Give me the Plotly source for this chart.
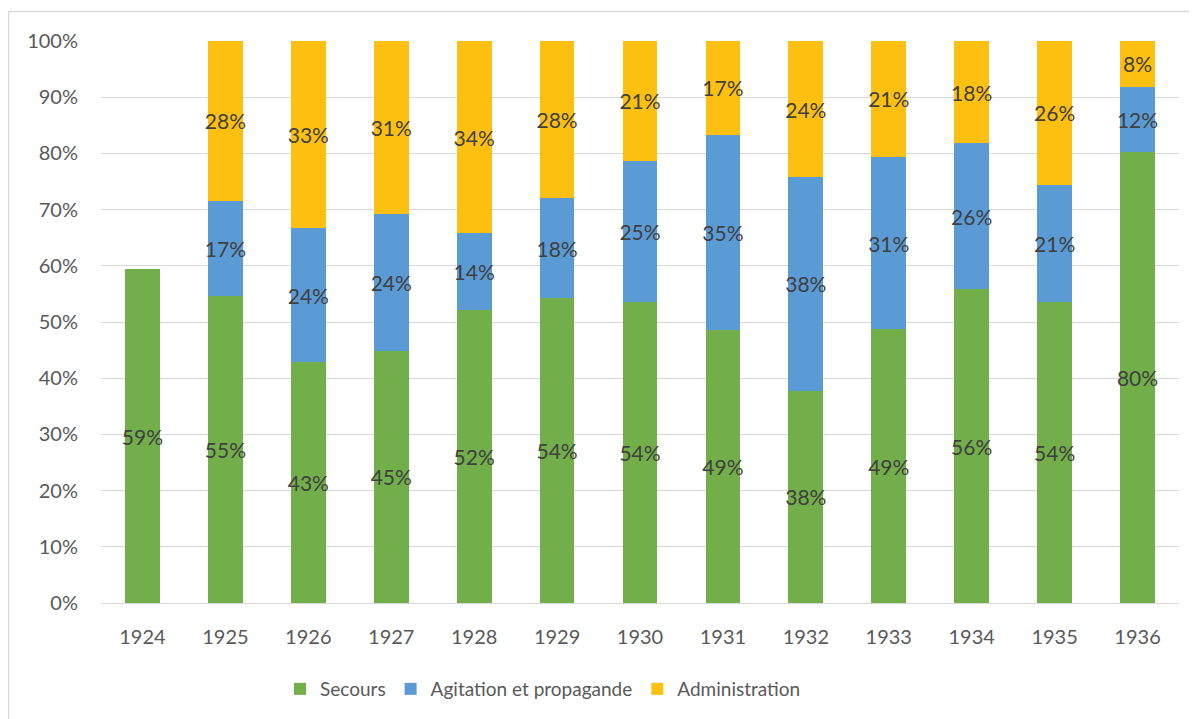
"""Stacked bars — share of spending by category, 1924-1936."""

import plotly.graph_objects as go

years = ["1924", "1925", "1926", "1927", "1928", "1929", "1930",
         "1931", "1932", "1933", "1934", "1935", "1936"]
secours = [0.594, 0.547, 0.428, 0.449, 0.522, 0.542, 0.535,
           0.485, 0.378, 0.487, 0.558, 0.536, 0.803]
agitation = [None, 0.169, 0.240, 0.244, 0.136, 0.179, 0.252,
             0.348, 0.380, 0.307, 0.260, 0.208, 0.116]
administration = [None, 0.284, 0.332, 0.307, 0.342, 0.279, 0.213,
                  0.167, 0.242, 0.206, 0.182, 0.256, 0.081]

SERIES = [
    ("Secours", secours, "#72AE4A"),
    ("Agitation et propagande", agitation, "#5B9BD5"),
    ("Administration", administration, "#FDC010"),
]

FONT = "Lato, Calibri, 'Open Sans', sans-serif"
# the page body adds an 8px margin, so the figure is a bit smaller than the window
W, H = 1189, 711
L, R, T, B = 93, 18, 33, 115

fig = go.Figure()
for name, vals, color in SERIES:
    fig.add_trace(
        go.Bar(
            x=years,
            y=vals,
            name=name,
            marker=dict(color=color, line=dict(width=0)),
            texttemplate="%{y:.0%}",
            textposition="inside",
            insidetextanchor="middle",
            textangle=0,
            constraintext="none",
            textfont=dict(family=FONT, size=21, color="#404040"),
            hovertemplate=f"{name}<br>%{{x}}: %{{y:.1%}}<extra></extra>",
        )
    )

# chart-area border (left and top edges visible in the reference)
pw, ph = W - L - R, H - T - B
fig.add_shape(
    type="rect", xref="paper", yref="paper",
    x0=(0.5 - L) / pw, x1=(W + 5 - L) / pw,
    y0=-(B + 5) / ph, y1=(H - B - 3.5) / ph,
    line=dict(color="#D9D9D9", width=1.5), layer="below",
)

fig.update_layout(
    barmode="stack",
    bargap=0.58,
    width=W,
    height=H,
    margin=dict(l=L, r=R, t=T, b=B),
    plot_bgcolor="white",
    paper_bgcolor="white",
    font=dict(family=FONT, size=18, color="#595959"),
    showlegend=True,
    legend=dict(
        orientation="h", x=0.41, xanchor="center", y=-0.151, yanchor="middle",
        font=dict(size=19, color="#595959"), itemwidth=30,
        traceorder="normal",
    ),
)
fig.update_yaxes(
    range=[0, 1], tickformat=".0%", dtick=0.1,
    showgrid=True, gridcolor="#D9D9D9", gridwidth=1,
    zeroline=True, zerolinecolor="#D9D9D9", zerolinewidth=1,
    ticks="", ticklabelstandoff=22, showline=False,
    tickfont=dict(size=20, color="#595959"),
)
fig.update_xaxes(
    showgrid=False, showline=False, ticks="",
    ticklabelstandoff=20, tickfont=dict(size=20, color="#595959"),
)

fig.write_html("out.html")
